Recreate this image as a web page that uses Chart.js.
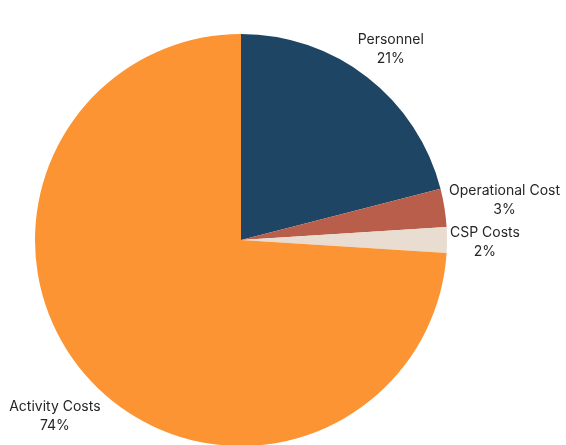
<!DOCTYPE html>
<html>
<head>
<meta charset="utf-8">
<script src="https://cdn.jsdelivr.net/npm/chart.js@4.4.1/dist/chart.umd.min.js"></script>
<style>
  html, body { margin: 0; padding: 0; background: #fff; overflow: hidden; }
  #wrap { width: 566px; height: 460px; position: relative; }
</style>
</head>
<body>
<div id="wrap"><canvas id="costChart"></canvas></div>
<script>
const categories = ['Personnel', 'Operational Cost', 'CSP Costs', 'Activity Costs'];
const shares = [21, 3, 2, 74];
const sliceColors = ['#1f4564', '#b95e4a', '#e9dcd1', '#fd9433'];

// draws "name / pct%" outside each slice, pushed out along the slice's mid angle
const outsideLabels = {
    id: 'outsideLabels',
    afterDatasetsDraw(chart) {
        const ctx = chart.ctx;
        const meta = chart.getDatasetMeta(0);
        const lineH = 19;
        ctx.save();
        ctx.font = '14px Inter, "Noto Sans", sans-serif';
        ctx.fillStyle = '#262626';
        ctx.textAlign = 'center';
        ctx.textBaseline = 'middle';
        meta.data.forEach((arc, i) => {
            const lines = [categories[i], shares[i] + '%'];
            const w = Math.max(...lines.map(t => ctx.measureText(t).width));
            const h = lineH * lines.length;
            const mid = (arc.startAngle + arc.endAngle) / 2;
            const dx = Math.cos(mid), dy = Math.sin(mid);
            const reach = (w / 2) * Math.abs(dx) + (h / 2) * Math.abs(dy);
            const r = arc.outerRadius + 3 + reach;
            const cx = arc.x + dx * r;
            const cy = arc.y + dy * r + 2;
            lines.forEach((t, k) => {
                ctx.fillText(t, cx, cy - h / 2 + lineH * (k + 0.5));
            });
        });
        ctx.restore();
    }
};

new Chart(document.getElementById('costChart'), {
    type: 'pie',
    data: {
        labels: categories,
        datasets: [{
            data: shares,
            backgroundColor: sliceColors,
            borderWidth: 0,
            hoverOffset: 0
        }]
    },
    options: {
        responsive: true,
        maintainAspectRatio: false,
        animation: false,
        layout: { padding: { top: 34, bottom: 14, left: 35, right: 119 } },
        plugins: {
            legend: { display: false },
            tooltip: { enabled: false }
        }
    },
    plugins: [outsideLabels]
});
</script>
</body>
</html>
